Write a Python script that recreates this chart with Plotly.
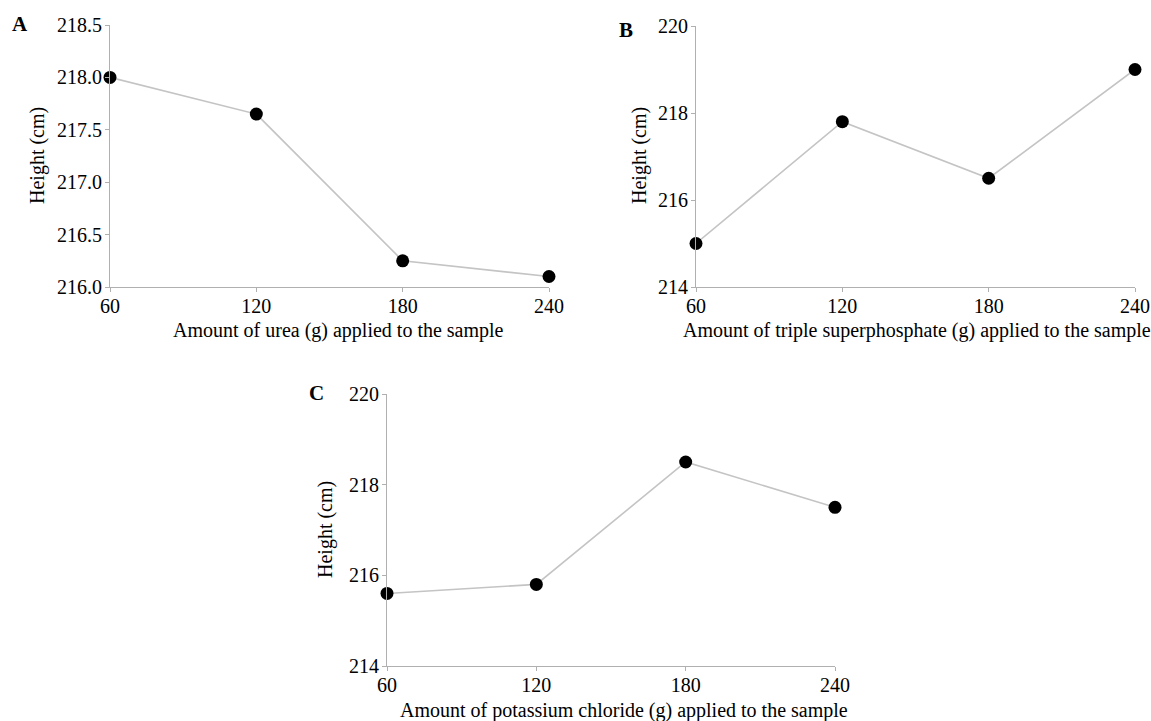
import plotly.graph_objects as go

doses = [60, 120, 180, 240]
height_urea = [218.0, 217.65, 216.25, 216.1]
height_tsp = [215.0, 217.8, 216.5, 219.0]
height_kcl = [215.6, 215.8, 218.5, 217.5]

x_titles = [
    "Amount of urea (g) applied to the sample",
    "Amount of triple superphosphate (g) applied to the sample",
    "Amount of potassium chloride (g) applied to the sample",
]
y_title = "Height (cm)"
panel_labels = ["A", "B", "C"]

W, H = 1151, 721
FONT = "Liberation Serif, Times New Roman, serif"
FS = 20

fig = go.Figure()

series = [height_urea, height_tsp, height_kcl]
axis_ids = ["", "2", "3"]
for s, aid in zip(series, axis_ids):
    fig.add_trace(go.Scatter(
        x=doses, y=s, mode="lines+markers",
        line=dict(color="#c4c4c4", width=1.6),
        marker=dict(color="black", size=13),
        cliponaxis=False, showlegend=False,
        xaxis="x" + aid, yaxis="y" + aid,
    ))

def px_x(a, b):
    return [a / W, b / W]

def px_y(top, bottom):
    return [1 - bottom / H, 1 - top / H]

common_ax = dict(
    showline=True, linecolor="#b0b0b0", linewidth=1,
    ticks="outside", ticklen=4, tickcolor="#b0b0b0",
    showgrid=False, zeroline=False, automargin=False,
    tickfont=dict(family=FONT, size=FS, color="black"),
)

xdoms = [px_x(110, 549), px_x(696, 1135), px_x(387, 835)]
ydoms = [px_y(25, 287), px_y(26, 287), px_y(394, 666)]
yranges = [[216.0, 218.5], [214, 220], [214, 220]]
ydticks = [0.5, 2, 2]
yfmts = [".1f", "d", "d"]

layout = dict(
    width=W, height=H,
    margin=dict(l=0, r=0, t=0, b=0, autoexpand=False),
    paper_bgcolor="white", plot_bgcolor="white",
    font=dict(family=FONT, color="black"),
)

for i, aid in enumerate(axis_ids):
    layout["xaxis" + aid] = dict(
        common_ax, domain=xdoms[i], range=[60, 240],
        tickmode="array", tickvals=doses, anchor="y" + aid,
        ticklabelstandoff=-3,
    )
    layout["yaxis" + aid] = dict(
        common_ax, domain=ydoms[i], range=yranges[i],
        dtick=ydticks[i], tick0=yranges[i][0], tickformat=yfmts[i], anchor="x" + aid,
        ticklabelstandoff=-1,
    )

fig.update_layout(**layout)

def ann(text, px, py, size, angle=0):
    fig.add_annotation(
        text=text, xref="paper", yref="paper",
        x=px / W, y=1 - py / H, xanchor="center", yanchor="middle",
        showarrow=False, textangle=angle,
        font=dict(family=FONT, size=size, color="black"),
    )

for lab, (px, py) in zip(panel_labels, [(20, 24), (626, 30), (316, 393)]):
    ann("<b>" + lab + "</b>", px, py, 21)

for t, (px, py) in zip(x_titles, [(338, 330), (917, 330), (624, 710)]):
    ann(t, px, py, FS)

for (px, py) in [(37, 156), (639, 156), (325, 530)]:
    ann(y_title, px, py, FS, angle=-90)

fig.write_html(
    "out.html",
    config={"displayModeBar": False},
    post_script="document.body.style.margin='0';document.body.style.overflow='hidden';",
)
